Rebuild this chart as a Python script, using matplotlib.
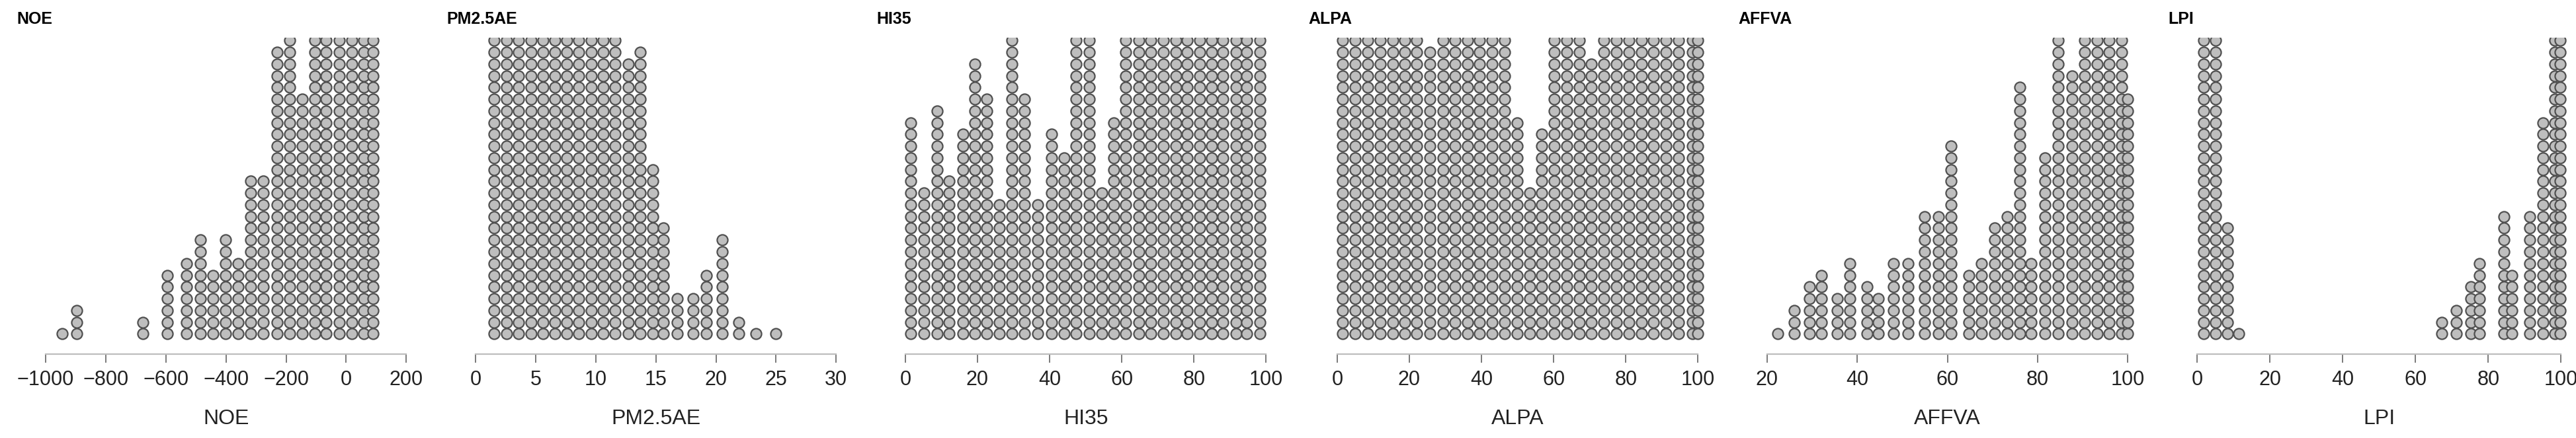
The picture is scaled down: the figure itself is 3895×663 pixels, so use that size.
import matplotlib
matplotlib.use('Agg')
import matplotlib.pyplot as plt

# ---------------- data (column centres and stacked counts) ----------------
titles = ["NOE", "PM2.5AE", "HI35", "ALPA", "AFFVA", "LPI"]

noe_x = [-945, -896, -677, -596, -531, -485, -443, -401, -359, -317, -275,
         -229, -187, -147, -105, -66, -24, 18, 58, 90]
noe_n = [1, 3, 2, 6, 7, 9, 6, 9, 7, 14, 14, 25, 30, 21, 30, 30, 30, 30, 30, 30]

pm_x = [1.56, 2.6, 3.6, 4.63, 5.63, 6.63, 7.6, 8.6, 9.63, 10.6, 11.6, 12.7,
        13.7, 14.77, 15.6, 16.8, 18.1, 19.2, 20.5, 21.9, 23.3, 25.0]
pm_n = [30, 30, 30, 30, 30, 30, 30, 30, 30, 30, 30, 24, 25, 15, 10, 4, 4, 6,
        9, 2, 1, 1]

hi_x = [1.5, 5.2, 8.9, 12.2, 15.9, 19.3, 22.6, 26.1, 29.6, 33.1, 36.6, 40.5,
        44.0, 47.4, 50.9, 54.4, 57.8, 61.0, 64.7, 68.0, 71.5, 75.0, 78.2,
        81.6, 84.9, 88.1, 91.6, 94.7, 98.2]
hi_n = [19, 13, 20, 14, 18, 24, 21, 12, 30, 21, 12, 18, 16, 30, 30, 13, 19,
        30, 30, 30, 30, 30, 30, 30, 30, 30, 30, 30, 30]

alpa_x = [1.55, 5.0, 8.5, 12.0, 15.5, 18.8, 22.1, 25.6, 29.3, 32.7, 36.2,
          39.5, 43.0, 46.4, 49.8, 53.3, 56.6, 60.1, 63.6, 67.1, 70.5, 74.0,
          77.4, 80.8, 84.3, 87.6, 91.1, 94.6, 98.4, 100.0]
alpa_n = [30, 30, 30, 30, 30, 30, 30, 25, 30, 30, 30, 30, 30, 30, 19, 13, 18,
          30, 30, 30, 24, 30, 30, 30, 30, 30, 30, 30, 30, 30]

affva_x = [22.3, 26.1, 29.4, 32.1, 35.5, 38.3, 42.1, 44.7, 48.0, 51.3, 54.9,
           58.0, 60.8, 64.7, 67.6, 70.5, 73.3, 76.1, 78.6, 81.6, 84.6, 87.7,
           90.4, 93.2, 95.8, 98.6, 100.0]
affva_n = [1, 3, 5, 6, 4, 7, 5, 4, 7, 7, 11, 11, 17, 6, 7, 10, 11, 22, 7, 16,
           30, 23, 30, 30, 30, 30, 21]

lpi_x = [1.9, 5.1, 8.4, 11.4, 67.2, 71.2, 75.3, 77.6, 84.3, 86.4, 91.4, 95.1,
         98.3, 99.8]
lpi_n = [30, 30, 10, 1, 2, 3, 5, 7, 11, 6, 11, 19, 30, 30]

ranges = [(-1000, 200), (0, 30), (0, 100), (0, 100), (20, 100), (0, 100)]
ticks = [[-1000, -800, -600, -400, -200, 0, 200],
         [0, 5, 10, 15, 20, 25, 30],
         [0, 20, 40, 60, 80, 100],
         [0, 20, 40, 60, 80, 100],
         [20, 40, 60, 80, 100],
         [0, 20, 40, 60, 80, 100]]
xs_all = [noe_x, pm_x, hi_x, alpa_x, affva_x, lpi_x]
ns_all = [noe_n, pm_n, hi_n, alpa_n, affva_n, lpi_n]

# ---------------- layout (pixels) ----------------
W, H, DPI = 3895, 663, 100
axis_px = [(68.9, 614.4), (718.9, 1264.4), (1368.9, 1914.4),
           (2021.9, 2567.3), (2671.9, 3217.3), (3321.9, 3872.4)]
AX_Y = 536.0
TOP_CLIP = 57.0
ROW0 = 505.3
ROW_H = 17.76
PAD = 40.0

plt.rcParams['font.family'] = ['Liberation Sans', 'DejaVu Sans']

fig = plt.figure(figsize=(W / DPI, H / DPI), dpi=DPI)

for i in range(6):
    L, R = axis_px[i]
    v0, v1 = ranges[i]
    sc = (R - L) / (v1 - v0)
    lp, rp = L - PAD, R + PAD
    ax = fig.add_axes([lp / W, (H - AX_Y) / H, (rp - lp) / W, (AX_Y - TOP_CLIP) / H])
    ax.set_xlim(v0 - PAD / sc, v1 + PAD / sc)
    ax.set_ylim(-(AX_Y - ROW0) / ROW_H, (ROW0 - TOP_CLIP) / ROW_H)
    for x, n in zip(xs_all[i], ns_all[i]):
        ax.scatter([x] * n, list(range(n)), s=135, c='#BEBEBE',
                   edgecolors='#505050', linewidths=1.6, zorder=3)
    for s in ['left', 'right', 'top']:
        ax.spines[s].set_visible(False)
    ax.spines['bottom'].set_bounds(v0, v1)
    ax.spines['bottom'].set_color('#BDBDBD')
    ax.spines['bottom'].set_linewidth(1.6)
    ax.set_yticks([])
    ax.set_xticks(ticks[i])
    ax.set_xticklabels([str(t).replace('-', '\u2212') for t in ticks[i]])
    ax.tick_params(axis='x', length=9.7, width=1.4, color='#7a7a7a',
                   pad=7.5, labelsize=22, labelcolor='#222222')
    ax.patch.set_visible(False)
    fig.text((L + R) / 2 / W, 1 - 634 / H, titles[i], ha='center', va='center',
             fontsize=23, color='#222222')
    fig.text((L - 43.5) / W, 1 - 29 / H, titles[i], ha='left', va='center',
             fontsize=18, fontweight='bold', color='black')

fig.savefig('out.png', dpi=DPI)
